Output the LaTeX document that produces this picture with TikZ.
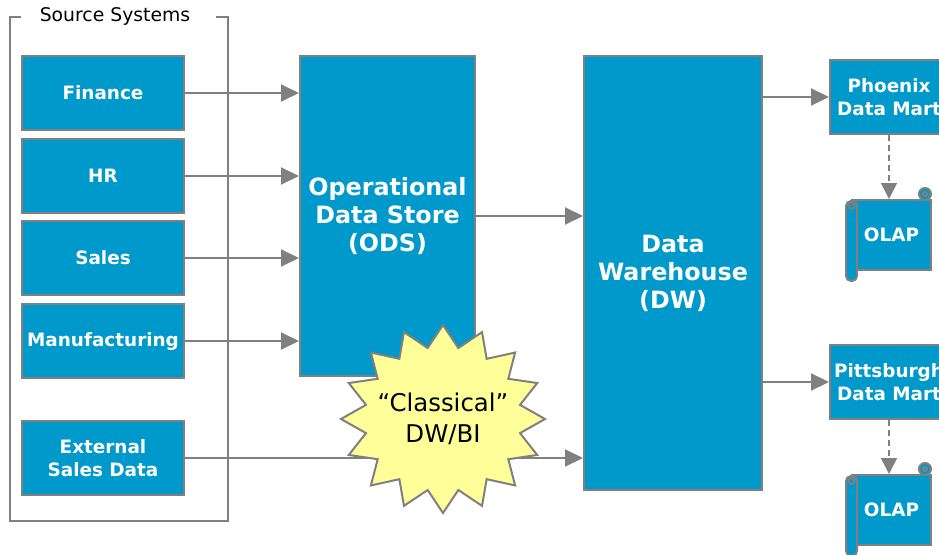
\documentclass[tikz,border=0pt]{standalone}
\usepackage{fontspec}
\setsansfont{DejaVu Sans}
\usetikzlibrary{arrows.meta}
\definecolor{boxblue}{HTML}{0099CC}
\definecolor{edge}{HTML}{808080}
\definecolor{burst}{HTML}{FFFF99}

\begin{document}
\begin{tikzpicture}[x=1pt,y=-1pt,font=\sffamily,
    blk/.style={draw=edge,line width=2pt,fill=boxblue,text=white,align=center,inner sep=0pt,
      font=\sffamily\bfseries\fontsize{18.4}{23}\selectfont},
    bigblk/.style={blk,font=\sffamily\bfseries\fontsize{23.8}{28}\selectfont},
    flow/.style={edge,line width=2pt,-{Triangle[length=18pt,width=17pt]}},
    dflow/.style={edge,line width=1.6pt,dash pattern=on 6pt off 4pt,-{Triangle[length=16pt,width=16pt]}}]
        \clip (0,0) rectangle (939,554);
        % source systems group
        \draw[edge,line width=2.5pt] (21,17) -- (10,17) -- (10,521) -- (228,521) -- (228,17) -- (216,17);
        \node[font=\sffamily\fontsize{18.8}{22}\selectfont] (srctitle) at (115,16) {Source Systems};
        \foreach \n/\y/\t in {fin/93/Finance,hr/176/HR,sales/258/Sales,manu/341/Manufacturing,ext/458/{External\\Sales Data}}{
          \node[blk,minimum width=162pt,minimum height=74pt] (\n) at (103,\y) {\t};
        }
        \node[bigblk,minimum width=175pt,minimum height=320pt] (ods) at (387.5,216) {Operational\\Data Store\\(ODS)};
        \node[bigblk,minimum width=178pt,minimum height=434pt] (dw) at (673,273) {Data\\Warehouse\\(DW)};
        \node[blk,minimum width=118pt,minimum height=74pt] (phx) at (889,97) {Phoenix\\Data Mart};
        \node[blk,minimum width=118pt,minimum height=74pt] (pit) at (889,382) {Pittsburgh\\Data Mart};
        \node[blk,minimum width=79pt,minimum height=70pt] (olapa) at (891.5,235) {OLAP};
        \node[blk,minimum width=79pt,minimum height=70pt] (olapb) at (891.5,510) {OLAP};
        % scroll ends
        \foreach \o in {olapa,olapb}{
          \begin{scope}[shift={(\o.north west)},edge,line width=2pt]
            \draw[fill=boxblue] (74,-5) circle (6pt);
            \draw (74,-5) circle (2pt);
            \draw[fill=boxblue,rounded corners=5pt] (-5,2) rectangle (6,82);
            \draw (0.5,7) circle (3pt);
          \end{scope}
        }
        % flows
        \foreach \n in {fin,hr,sales,manu}{\draw[flow] (\n.east) -- (\n.east -| ods.west);}
        \draw[flow] (ext.east) -- (ext.east -| dw.west);
        \draw[flow] (ods.east) -- (ods.east -| dw.west);
        \draw[flow] (phx.west -| dw.east) -- (phx.west);
        \draw[flow] (pit.west -| dw.east) -- (pit.west);
        \draw[dflow] (phx.south) -- (phx.south |- olapa.north);
        \draw[dflow] (pit.south) -- (pit.south |- olapb.north);
        % burst
        \begin{scope}[shift={(443,419)}]
          \draw[edge,line width=2pt,fill=burst] plot[samples at={0,...,31}]
            ({102*cos(\x*11.25-90)*ifthenelse(mod(\x,2)==0,1,0.77)},{94*sin(\x*11.25-90)*ifthenelse(mod(\x,2)==0,1,0.77)}) -- cycle;
        \end{scope}
        \node[align=center,font=\sffamily\fontsize{24.4}{31}\selectfont] (classic) at (443,419) {“Classical”\\DW/BI};
      \end{tikzpicture}
\end{document}
